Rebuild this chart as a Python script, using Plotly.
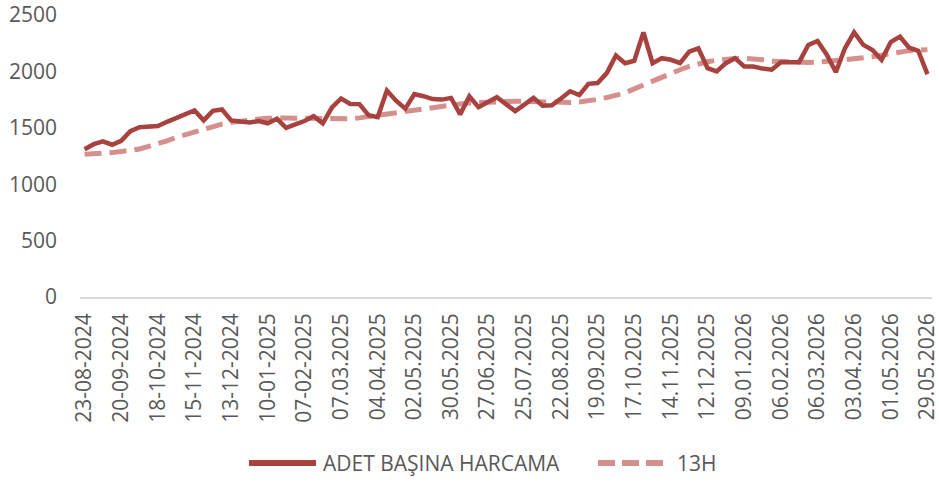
import plotly.graph_objects as go

tick_labels = ["23-08-2024", "20-09-2024", "18-10-2024", "15-11-2024", "13-12-2024",
               "10-01-2025", "07-02-2025", "07.03.2025", "04.04.2025", "02.05.2025",
               "30.05.2025", "27.06.2025", "25.07.2025", "22.08.2025", "19.09.2025",
               "17.10.2025", "14.11.2025", "12.12.2025", "09.01.2026", "06.02.2026",
               "06.03.2026", "03.04.2026", "01.05.2026", "29.05.2026"]

adet_basina_harcama = [1310, 1355, 1380, 1350, 1385, 1470, 1505, 1510, 1515, 1553,
                       1585, 1620, 1654, 1566, 1650, 1662, 1566, 1555, 1548, 1560,
                       1540, 1580, 1500, 1530, 1560, 1603, 1540, 1680, 1760, 1712,
                       1710, 1612, 1595, 1830, 1740, 1670, 1800, 1780, 1755, 1750,
                       1765, 1619, 1780, 1683, 1730, 1771, 1710, 1648, 1705, 1765,
                       1695, 1700, 1760, 1824, 1790, 1890, 1897, 1985, 2141, 2073,
                       2094, 2346, 2073, 2117, 2103, 2073, 2176, 2205, 2029, 2000,
                       2073, 2117, 2044, 2044, 2025, 2015, 2082, 2082, 2082, 2235,
                       2270, 2150, 1994, 2205, 2346, 2235, 2190, 2103, 2260, 2308,
                       2210, 2182, 1976]

h13 = [1266, 1268, 1272, 1280, 1290, 1300, 1312, 1335, 1356, 1385,
       1415, 1440, 1465, 1486, 1510, 1533, 1548, 1560, 1572, 1578,
       1584, 1589, 1587, 1585, 1583, 1580, 1578, 1576, 1575, 1580,
       1588, 1600, 1610, 1620, 1630, 1645, 1660, 1672, 1685, 1698,
       1705, 1712, 1720, 1725, 1730, 1735, 1736, 1736, 1735, 1732,
       1728, 1724, 1722, 1724, 1728, 1737, 1752, 1768, 1785, 1810,
       1845, 1880, 1915, 1955, 1985, 2015, 2045, 2068, 2085, 2100,
       2110, 2114, 2117, 2112, 2103, 2090, 2085, 2080, 2079, 2080,
       2082, 2088, 2095, 2102, 2110, 2120, 2130, 2145, 2165, 2178,
       2184, 2189, 2192]

y_ticks = [0, 500, 1000, 1500, 2000, 2500]
series_names = ["ADET BAŞINA HARCAMA", "13H"]
main_color = "#A8423E"
ma_color = "#D58F8D"
text_color = "#595959"
font_family = "Open Sans"

x = list(range(len(adet_basina_harcama)))
tick_step = 4

fig = go.Figure()
fig.add_trace(go.Scatter(x=x, y=h13, mode="lines", name=series_names[1],
                         line=dict(color=ma_color, width=5, dash="17px,8px"),
                         showlegend=False))
fig.add_trace(go.Scatter(x=x, y=adet_basina_harcama, mode="lines", name=series_names[0],
                         line=dict(color=main_color, width=4.5),
                         showlegend=False))

W, H = 939, 482
L, R, T, B = 80, 7, 15, 185
pw, ph = W - L - R, H - T - B

def px_x(p):
    return (p - L) / pw

def px_y(p):
    return (H - B - p) / ph

leg_y = 463
fig.add_shape(type="line", xref="paper", yref="paper",
              x0=px_x(249), x1=px_x(316), y0=px_y(leg_y), y1=px_y(leg_y),
              line=dict(color=main_color, width=6))
fig.add_shape(type="line", xref="paper", yref="paper",
              x0=px_x(598), x1=px_x(665), y0=px_y(leg_y), y1=px_y(leg_y),
              line=dict(color=ma_color, width=6, dash="17px,7px"))
fig.add_annotation(text=series_names[0], xref="paper", yref="paper",
                   x=px_x(321), y=px_y(leg_y), xanchor="left", yanchor="middle",
                   showarrow=False, font=dict(family=font_family, size=21, color=text_color))
fig.add_annotation(text=series_names[1], xref="paper", yref="paper",
                   x=px_x(675), y=px_y(leg_y), xanchor="left", yanchor="middle",
                   showarrow=False, font=dict(family=font_family, size=21, color=text_color))

fig.update_layout(
    width=W, height=H, autosize=False,
    margin=dict(l=L, r=R, t=T, b=B, pad=0, autoexpand=False),
    paper_bgcolor="white", plot_bgcolor="white",
    font=dict(family=font_family, size=21, color=text_color),
    showlegend=False,
)
fig.update_xaxes(range=[-0.5, len(x) - 0.5], automargin=False,
                 tickvals=x[::tick_step], ticktext=tick_labels,
                 tickangle=-90, showgrid=False, zeroline=False,
                 showline=True, linecolor="#D9D9D9", linewidth=1.5,
                 ticks="", ticklabelstandoff=6, ticklabeloverflow="allow",
                 tickfont=dict(family=font_family, size=21, color=text_color))
fig.update_yaxes(range=[0, 2500], tickvals=y_ticks, automargin=False,
                 showgrid=False, zeroline=False, showline=False, ticks="",
                 ticklabelstandoff=22, ticklabeloverflow="allow",
                 tickfont=dict(family=font_family, size=21, color=text_color))

fig.write_html("out.html", config={"displayModeBar": False},
               post_script="document.body.style.margin='0';document.body.style.overflow='hidden';")
